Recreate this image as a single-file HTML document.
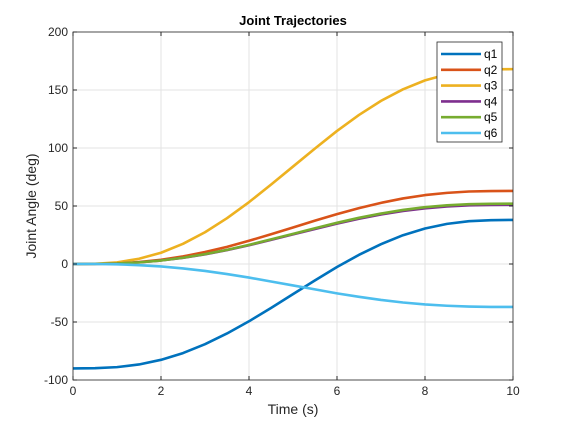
<!DOCTYPE html>
<html><head><meta charset="utf-8"><style>
body{margin:0;background:#fff;}
svg{display:block;font-family:"Liberation Sans",Arial,sans-serif;}
</style></head><body>
<svg id="chart" width="567" height="425" viewBox="0 0 567 425"></svg>
<script>
const times=[0,0.5,1,1.5,2,2.5,3,3.5,4,4.5,5,5.5,6,6.5,7,7.5,8,8.5,9,9.5,10];
const q1=[-90,-89.8,-88.9,-86.6,-82.6,-76.8,-69.1,-59.9,-49.4,-37.9,-26,-14.1,-2.6,7.9,17.1,24.8,30.6,34.6,36.9,37.8,38];
const q2=[0,0.1,0.5,1.7,3.6,6.5,10.3,14.8,20.0,25.6,31.5,37.4,43.0,48.2,52.7,56.5,59.4,61.3,62.5,62.9,63];
const q3=[0,0.2,1.4,4.5,9.7,17.4,27.4,39.5,53.3,68.4,84,99.6,114.7,128.5,140.6,150.6,158.3,163.5,166.6,167.8,168];
const q4=[0,0.1,0.4,1.4,3.0,5.3,8.3,12.0,16.2,20.8,25.5,30.2,34.8,39.0,42.7,45.7,48.0,49.6,50.6,50.9,51];
const q5=[0,0.1,0.4,1.4,3.0,5.4,8.5,12.2,16.5,21.2,26,30.8,35.5,39.8,43.5,46.6,49.0,50.6,51.6,51.9,52];
const q6=[0,0,-0.3,-1.0,-2.1,-3.8,-6.0,-8.7,-11.7,-15.1,-18.5,-21.9,-25.3,-28.3,-31.0,-33.2,-34.9,-36.0,-36.7,-37.0,-37];
const seriesNames=["q1","q2","q3","q4","q5","q6"];
const xTicks=[0,2,4,6,8,10];
const yTicks=[-100,-50,0,50,100,150,200];

const colors=["#0072BD","#D95319","#EDB120","#7E2F8E","#77AC30","#4DBEEE"];
const L=73,R=513,T=32,B=380;
const xs=v=>L+(v-0)/(10-0)*(R-L);
const ys=v=>B-(v+100)/300*(B-T);
const svg=document.getElementById('chart');
const NS="http://www.w3.org/2000/svg";
function mk(tag,attrs,parent){const e=document.createElementNS(NS,tag);for(const k in attrs)e.setAttribute(k,attrs[k]);(parent||svg).appendChild(e);return e;}

const grid=mk('g',{});


xTicks.forEach(t=>{mk('line',{x1:xs(t),x2:xs(t),y1:T,y2:B,stroke:'#e3e3e3','stroke-width':1},grid);});
yTicks.forEach(t=>{mk('line',{x1:L,x2:R,y1:ys(t),y2:ys(t),stroke:'#e3e3e3','stroke-width':1},grid);});

const data=[q1,q2,q3,q4,q5,q6];
data.forEach((arr,i)=>{
  const d=arr.map((v,j)=>(j?'L':'M')+xs(times[j]).toFixed(2)+','+ys(v).toFixed(2)).join(' ');
  const p=mk('path',{d:d,fill:'none',stroke:colors[i],'stroke-width':2.6,'stroke-linejoin':'round'});
  
  
});

const axes=mk('rect',{x:L,y:T,width:R-L,height:B-T,fill:'none',stroke:'#262626','stroke-width':0.8});



xTicks.forEach(t=>{
  mk('line',{x1:xs(t),x2:xs(t),y1:B,y2:B-4,stroke:'#262626'});
  mk('line',{x1:xs(t),x2:xs(t),y1:T,y2:T+4,stroke:'#262626'});
  const tx=mk('text',{x:xs(t),y:B+15,'text-anchor':'middle','font-size':12,fill:'#262626'});
  tx.textContent=t;
  
  
});
yTicks.forEach(t=>{
  mk('line',{x1:L,x2:L+4,y1:ys(t),y2:ys(t),stroke:'#262626'});
  mk('line',{x1:R,x2:R-4,y1:ys(t),y2:ys(t),stroke:'#262626'});
  const tx=mk('text',{x:L-5,y:ys(t)+4,'text-anchor':'end','font-size':12,fill:'#262626'});
  tx.textContent=t;
  
  
});

const title=mk('text',{x:(L+R)/2,y:25,'text-anchor':'middle','font-size':13,'font-weight':'bold',fill:'#000'});
title.textContent='Joint Trajectories';


const xl=mk('text',{x:(L+R)/2,y:414,'text-anchor':'middle','font-size':14,fill:'#262626'});
xl.textContent='Time (s)';


const yl=mk('text',{x:0,y:0,'text-anchor':'middle','font-size':14,fill:'#262626',transform:'translate(36,206) rotate(-90)'});
yl.textContent='Joint Angle (deg)';



const lg=mk('g',{});


mk('rect',{x:437,y:42,width:65,height:100,fill:'#fff',stroke:'#262626','stroke-width':0.8},lg);
seriesNames.forEach((n,i)=>{
  const y=54+i*15.8;
  const g=mk('g',{},lg);
  
  
  mk('line',{x1:441,x2:481,y1:y,y2:y,stroke:colors[i],'stroke-width':2.6},g);
  const t=mk('text',{x:484,y:y+4,'font-size':12,fill:'#000'},g);
  t.textContent=n;
});
</script>
</body></html>
